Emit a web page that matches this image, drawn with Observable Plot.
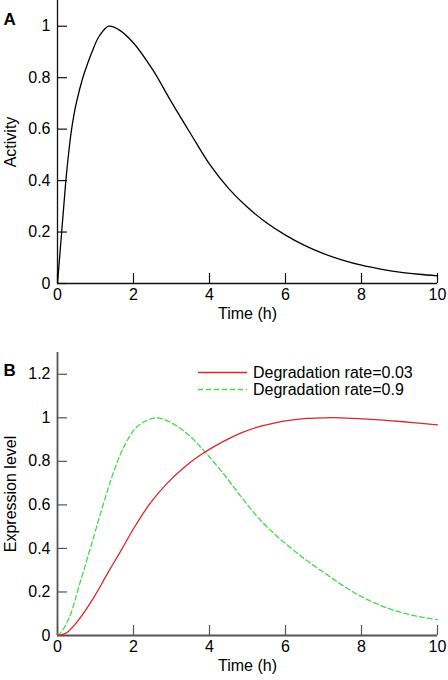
<!DOCTYPE html>
<html>
<head>
<meta charset="utf-8">
<script src="https://cdn.jsdelivr.net/npm/d3@7"></script>
<script src="https://cdn.jsdelivr.net/npm/@observablehq/plot@0.6"></script>
<style>
  html, body { margin: 0; padding: 0; background: #fff; }
  #wrap { position: relative; width: 448px; height: 680px; font-family: "Liberation Sans", Arial, Helvetica, sans-serif; }
  #legend { position: absolute; left: 198px; top: 364px; font-size: 16px; color: #000; }
  #legend .row { display: flex; align-items: center; height: 17px; line-height: 17px; white-space: nowrap; }
  #legend svg { margin-right: 6px; flex: none; }
</style>
</head>
<body>
<div id="wrap"></div>
<script>
// ---- Panel A data ----
const timeA = [0, 0.11, 0.22, 0.3, 0.35, 0.42, 0.5, 0.66, 0.8, 0.92, 1.1, 1.35, 1.6, 2.0, 2.5, 3.0, 3.5, 4.0, 4.5, 5.0, 5.5, 6.0, 6.5, 7.0, 7.5, 8.0, 8.5, 9.0, 9.5, 10];
const activity = [0, 0.2, 0.4, 0.516, 0.578, 0.645, 0.705, 0.797, 0.858, 0.905, 0.962, 1.0, 0.988, 0.935, 0.832, 0.705, 0.583, 0.464, 0.37, 0.296, 0.236, 0.188, 0.148, 0.116, 0.091, 0.071, 0.056, 0.044, 0.036, 0.03];

// ---- Panel B data ----
const timeRed = [0, 0.26, 0.61, 0.96, 1.31, 1.67, 2.02, 2.45, 2.89, 3.33, 3.77, 4.38, 4.82, 5.26, 5.70, 6.14, 6.58, 7.02, 7.46, 8.15, 9.03, 10];
const exprRed = [0, 0.015, 0.084, 0.176, 0.283, 0.39, 0.496, 0.61, 0.70, 0.772, 0.83, 0.893, 0.93, 0.957, 0.976, 0.989, 0.997, 1.0, 1.0, 0.994, 0.983, 0.968];
const timeGreen = [0, 0.13, 0.35, 0.52, 0.70, 0.88, 1.14, 1.36, 1.58, 1.80, 2.1, 2.59, 3.07, 3.51, 3.90, 4.38, 4.82, 5.26, 5.70, 6.14, 6.58, 7.02, 7.46, 7.9, 8.34, 8.78, 9.22, 9.66, 10];
const exprGreen = [0, 0.023, 0.10, 0.2, 0.305, 0.41, 0.565, 0.69, 0.80, 0.885, 0.96, 1.0, 0.97, 0.912, 0.84, 0.74, 0.64, 0.545, 0.468, 0.402, 0.342, 0.288, 0.235, 0.188, 0.15, 0.12, 0.098, 0.082, 0.073];

const seriesNames = ["Degradation rate=0.03", "Degradation rate=0.9"];
const seriesColors = ["#d8272b", "#44d944"];

// ---- Ticks ----
const xTicks = [0, 2, 4, 6, 8, 10];
const yTicksA = [0, 0.2, 0.4, 0.6, 0.8, 1];
const yTicksB = [0, 0.2, 0.4, 0.6, 0.8, 1, 1.2];

const font = '"Liberation Sans", Arial, Helvetica, sans-serif';
const fmt = d => `${d}`;

const dataA = timeA.map((t, i) => ({t, v: activity[i]}));
const dataRed = timeRed.map((t, i) => ({t, v: exprRed[i]}));
const dataGreen = timeGreen.map((t, i) => ({t, v: exprGreen[i]}));

function axes(axisColor, axisWidth, yTicks) {
  return [
    Plot.axisX({ticks: xTicks, tickSize: -10, tickPadding: 15, tickFormat: fmt, label: null, stroke: axisColor, strokeWidth: 1.2, fill: "#000"}),
    Plot.axisY({ticks: yTicks, tickSize: -10, tickPadding: 17, tickFormat: fmt, label: null, stroke: axisColor, strokeWidth: 1.2, fill: "#000"}),
    Plot.ruleX([0], {stroke: axisColor, strokeWidth: axisWidth}),
    Plot.ruleY([0], {stroke: axisColor, strokeWidth: axisWidth}),
    Plot.text(["Time (h)"], {frameAnchor: "bottom", dy: 35, fontSize: 16, fill: "#000"})
  ];
}

const plotA = Plot.plot({
  width: 448, height: 330,
  marginLeft: 57, marginRight: 11, marginTop: 0, marginBottom: 47,
  style: {fontSize: "16px", fontFamily: font, color: "#000", background: "#fff"},
  x: {domain: [0, 10]},
  y: {domain: [0, 1.1]},
  marks: [
    ...axes("#111", 1.3, yTicksA),
    Plot.text(["Activity"], {frameAnchor: "left", textAnchor: "middle", rotate: -90, dx: -47, fontSize: 16, fill: "#000"}),
    Plot.text(["A"], {frameAnchor: "top-left", dx: -54, dy: 12, textAnchor: "start", fontWeight: "bold", fontSize: 17, fill: "#000"}),
    Plot.line(dataA, {x: "t", y: "v", stroke: "#000", strokeWidth: 1.3, curve: "catmull-rom"})
  ]
});

const plotB = Plot.plot({
  width: 448, height: 350,
  marginLeft: 57, marginRight: 11, marginTop: 22, marginBottom: 45,
  style: {fontSize: "16px", fontFamily: font, color: "#000", background: "#fff"},
  x: {domain: [0, 10]},
  y: {domain: [0, 1.3]},
  marks: [
    ...axes("#555", 1.8, yTicksB),
    Plot.text(["Expression level"], {frameAnchor: "left", textAnchor: "middle", rotate: -90, dx: -47, fontSize: 16, fill: "#000"}),
    Plot.text(["B"], {frameAnchor: "top-left", dx: -54, dy: 11, textAnchor: "start", fontWeight: "bold", fontSize: 17, fill: "#000"}),
    Plot.line(dataGreen, {x: "t", y: "v", stroke: seriesColors[1], strokeWidth: 1.3, strokeDasharray: "5,3", curve: "catmull-rom"}),
    Plot.line(dataRed, {x: "t", y: "v", stroke: seriesColors[0], strokeWidth: 1.3, curve: "catmull-rom"})
  ]
});

const wrap = document.getElementById("wrap");
plotA.style.display = "block";
plotB.style.display = "block";
wrap.appendChild(plotA);
wrap.appendChild(plotB);

// Legend
const legend = document.createElement("div");
legend.id = "legend";
seriesNames.forEach((name, i) => {
  const row = document.createElement("div");
  row.className = "row";
  const dash = i === 1 ? ' stroke-dasharray="5,3"' : '';
  row.innerHTML = `<svg width="49" height="17"><line x1="0" x2="49" y1="8.5" y2="8.5" stroke="${seriesColors[i]}" stroke-width="1.3"${dash}/></svg><span>${name}</span>`;
  legend.appendChild(row);
});
wrap.appendChild(legend);
</script>
</body>
</html>
